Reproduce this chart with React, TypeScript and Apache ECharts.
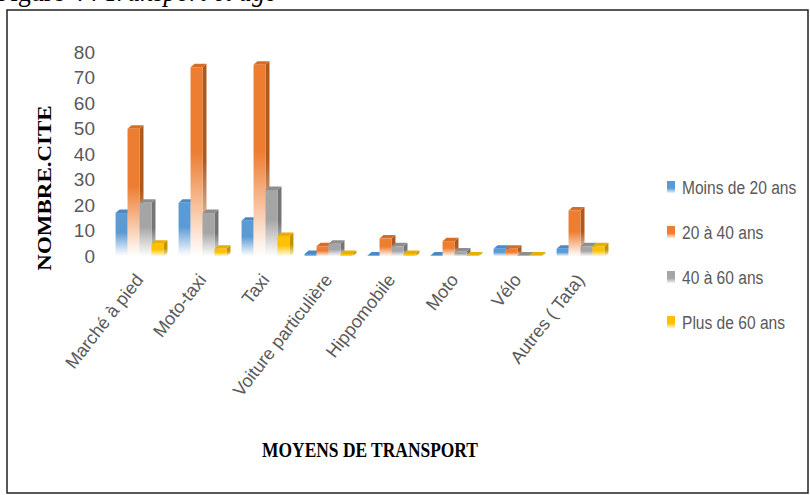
import React, { useEffect, useRef } from "react";
import * as echarts from "echarts";

// Transport modes (x axis)
const categories = [
  "Marché à pied",
  "Moto-taxi",
  "Taxi",
  "Voiture particulière",
  "Hippomobile",
  "Moto",
  "Vélo",
  "Autres ( Tata)",
];

// Age groups (legend)
const seriesNames = ["Moins de 20 ans", "20 à 40 ans", "40 à 60 ans", "Plus de 60 ans"];

// Number of citations per age group
const moins20 = [17, 21, 14, 1, 0, 0, 3, 3];
const de20a40 = [50, 74, 75, 4, 7, 6, 3, 18];
const de40a60 = [21, 17, 26, 5, 4, 2, 0, 4];
const plus60 = [5, 3, 8, 1, 1, 0, 0, 4];

const yMax = 80;
const yInterval = 10;

const palette = [
  { main: "#5B9BD5", side: "#3E72A5", top: "#4A88C6", pale: "#EEF4FB" },
  { main: "#ED7D31", side: "#B0591D", top: "#D66C26", pale: "#FDEEE4" },
  { main: "#A5A5A5", side: "#747474", top: "#8E8E8E", pale: "#F3F3F3" },
  { main: "#FFC000", side: "#C49200", top: "#E8AE00", pale: "#FFF6D6" },
];

const SANS = "'Liberation Sans', Arial, sans-serif";
const SERIF = "'Liberation Serif', 'Times New Roman', serif";

const DEPTH_X = 4;
const DEPTH_Y = 3.5;

function makeRenderItem(s: number) {
  const c = palette[s];
  return (_params: any, api: any) => {
    const idx = api.value(0);
    const v = api.value(1);
    const base = api.coord([idx, 0]);
    const top = api.coord([idx, v]);
    const catW = api.size([1, 0])[0];
    const bw = catW * 0.19;
    const x0 = base[0] - 2 * bw + s * bw;
    const yb = base[1];
    const yt = Math.min(top[1], yb - 1);
    const x1 = x0 + bw;

    const frontFill = new echarts.graphic.LinearGradient(0, 0, 0, 1, [
      { offset: 0, color: c.main },
      { offset: 0.45, color: c.main },
      { offset: 0.92, color: c.pale },
      { offset: 1, color: "#ffffff" },
    ]);
    const sideFill = new echarts.graphic.LinearGradient(0, 0, 0, 1, [
      { offset: 0, color: c.side },
      { offset: 0.5, color: c.side },
      { offset: 1, color: c.pale },
    ]);

    return {
      type: "group",
      children: [
        {
          type: "polygon",
          shape: {
            points: [
              [x1, yt],
              [x1 + DEPTH_X, yt - DEPTH_Y],
              [x1 + DEPTH_X, yb - DEPTH_Y],
              [x1, yb],
            ],
          },
          style: { fill: sideFill },
        },
        {
          type: "polygon",
          shape: {
            points: [
              [x0, yt],
              [x0 + DEPTH_X, yt - DEPTH_Y],
              [x1 + DEPTH_X, yt - DEPTH_Y],
              [x1, yt],
            ],
          },
          style: { fill: c.top },
        },
        {
          type: "rect",
          shape: { x: x0, y: yt, width: bw, height: yb - yt },
          style: { fill: frontFill },
        },
      ],
    };
  };
}

// Legend drawn as graphic elements so the condensed lettering can be reproduced
function legendGraphics() {
  const left = 667;
  const firstY = 187;
  const step = 45;
  const items: any[] = [];
  seriesNames.forEach((name, s) => {
    const cy = firstY + s * step;
    items.push({
      type: "rect",
      shape: { x: left, y: cy - 6, width: 8, height: 12 },
      style: {
        fill: new echarts.graphic.LinearGradient(0, 0, 0, 1, [
          { offset: 0, color: palette[s].main },
          { offset: 0.6, color: palette[s].main },
          { offset: 1, color: palette[s].pale },
        ]),
      },
    });
    items.push({
      type: "text",
      x: left + 15,
      y: cy,
      scaleX: 0.82,
      style: {
        text: name,
        fontFamily: SANS,
        fontSize: 19,
        fill: "#595959",
        align: "left",
        verticalAlign: "middle",
      },
    });
  });
  return items;
}

export default function App() {
  const ref = useRef<HTMLDivElement>(null);

  useEffect(() => {
    if (!ref.current) return;
    const chart = echarts.init(ref.current, null, { renderer: "svg" });
    const allValues = [moins20, de20a40, de40a60, plus60];

    const series = allValues.map((vals, s) => ({
      type: "custom",
      name: seriesNames[s],
      renderItem: makeRenderItem(s),
      data: vals.map((v, i) => [i, v]),
      encode: { x: 0, y: 1 },
      itemStyle: { color: palette[s].main },
      z: 2 + s,
    }));

    chart.setOption({
      animation: false,
      backgroundColor: "#ffffff",
      grid: { left: 108, width: 504, top: 52, height: 204.5 },
      xAxis: {
        type: "category",
        data: categories,
        axisLine: { show: false },
        axisTick: { show: false },
        axisLabel: {
          interval: 0,
          rotate: 52,
          margin: 20,
          color: "#595959",
          fontSize: 18,
          fontFamily: SANS,
        },
      },
      yAxis: {
        type: "value",
        min: 0,
        max: yMax,
        interval: yInterval,
        splitLine: { show: false },
        axisLine: { show: false },
        axisTick: { show: false },
        axisLabel: { color: "#595959", fontSize: 19, fontFamily: SANS, margin: 13 },
      },
      graphic: [
        {
          type: "rect",
          shape: { x: 7, y: 10, width: 801, height: 483 },
          style: { fill: "none", stroke: "#222", lineWidth: 1.5 },
          z: 10,
        },
        {
          type: "text",
          x: -4,
          y: -9,
          scaleX: 0.87,
          style: {
            text: "{a|Figure 4 : }{b|Transport et âge}",
            verticalAlign: "middle",
            rich: {
              a: { fontFamily: SERIF, fontSize: 30, fill: "#000" },
              b: { fontFamily: SERIF, fontSize: 30, fontStyle: "italic", fill: "#000" },
            },
          },
          z: 10,
        },
        {
          type: "text",
          x: 45,
          y: 188,
          rotation: Math.PI / 2,
          scaleY: 0.85,
          style: {
            text: "NOMBRE.CITE",
            fontFamily: SERIF,
            fontWeight: "bold",
            fontSize: 23,
            fill: "#000",
            align: "center",
            verticalAlign: "middle",
          },
        },
        {
          type: "text",
          x: 370,
          y: 450,
          scaleX: 0.83,
          style: {
            text: "MOYENS DE TRANSPORT",
            fontFamily: SERIF,
            fontWeight: "bold",
            fontSize: 21,
            fill: "#000",
            align: "center",
            verticalAlign: "middle",
          },
        },
        ...legendGraphics(),
      ],
      series,
    });

    return () => chart.dispose();
  }, []);

  return (
    <div
      ref={ref}
      style={{ position: "fixed", left: 0, top: 0, width: 810, height: 495 }}
    />
  );
}
